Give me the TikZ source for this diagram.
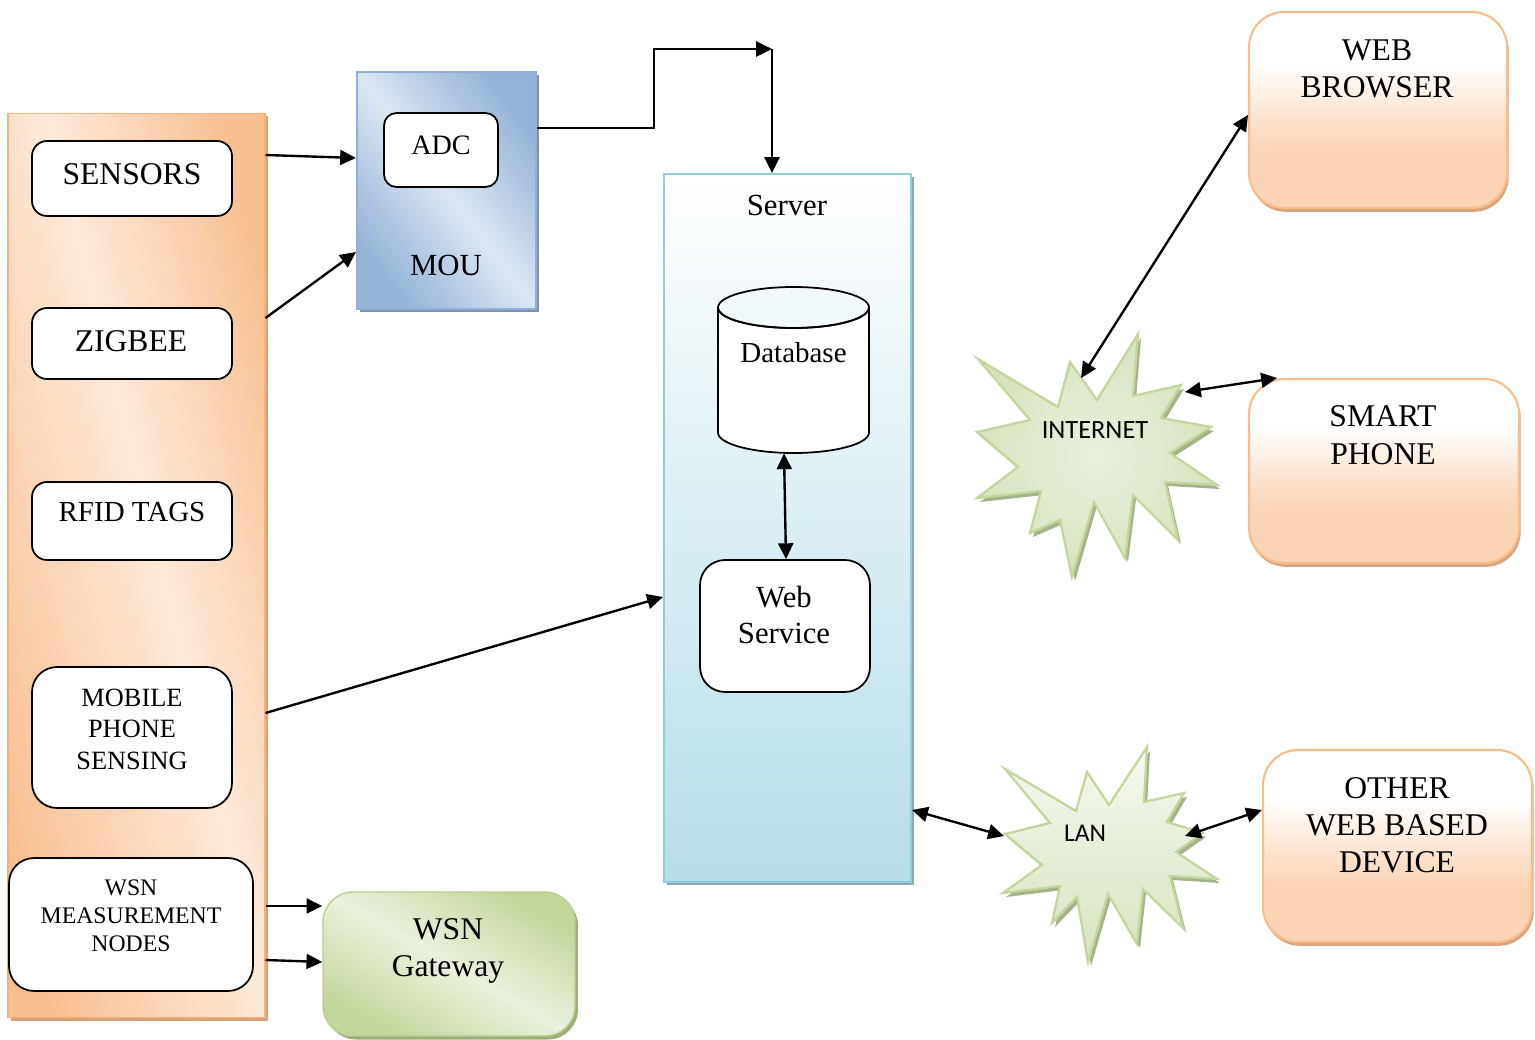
\documentclass[tikz,border=0pt]{standalone}
\usepackage{fontspec}
\setmainfont{Liberation Serif}
\newfontfamily\calfont{Carlito}
\usetikzlibrary{arrows.meta,shadows}

\newcommand\fs[2]{\fontsize{#1}{#2}\selectfont}

% palette
\definecolor{orA}{HTML}{F9BF8F}
\definecolor{orL}{HTML}{FDEADB}
\definecolor{orEdge}{HTML}{F6B27E}
\definecolor{orShadow}{HTML}{D5A27C}
\definecolor{bluA}{HTML}{95B3D7}
\definecolor{bluL}{HTML}{DCE6F2}
\definecolor{bluEdge}{HTML}{8FB0D9}
\definecolor{bluShadow}{HTML}{8292AA}
\definecolor{srvBot}{HTML}{B6DDE8}
\definecolor{srvEdge}{HTML}{92CDDC}
\definecolor{srvShadow}{HTML}{8CA8B2}
\definecolor{pkBot}{HTML}{FBD4B4}
\definecolor{pkEdge}{HTML}{F9BD8B}
\definecolor{pkShadow}{HTML}{D7A680}
\definecolor{grA}{HTML}{C3D69B}
\definecolor{grL}{HTML}{EBF1DE}
\definecolor{grEdge}{HTML}{B9CF8C}
\definecolor{grShadow}{HTML}{9CB07A}
\definecolor{stIn}{HTML}{EAF1DF}
\definecolor{stOut}{HTML}{D6E3BE}
\definecolor{stEdge}{HTML}{C3D69B}
\definecolor{stShadow}{HTML}{A3B38A}

% fills
\pgfdeclarehorizontalshading{panelshade}{100bp}{color(0bp)=(orA); color(25bp)=(orA); color(53bp)=(orL); color(75bp)=(orA); color(100bp)=(orA)}
\pgfdeclarehorizontalshading{moushade}{100bp}{color(0bp)=(bluA); color(25bp)=(bluA); color(50bp)=(bluL); color(75bp)=(bluA); color(100bp)=(bluA)}
\pgfdeclarehorizontalshading{gwshade}{100bp}{color(0bp)=(grA); color(25bp)=(grA); color(50bp)=(grL); color(75bp)=(grA); color(100bp)=(grA)}
\pgfdeclareverticalshading{pinkshade}{100bp}{color(0bp)=(pkBot); color(25bp)=(pkBot); color(40bp)=(pkBot); color(62bp)=(white); color(100bp)=(white)}
\pgfdeclareverticalshading{lanshade}{100bp}{color(0bp)=(stOut); color(25bp)=(stOut); color(75bp)=(white!60!stIn); color(100bp)=(white!60!stIn)}

% outlines of the two bursts
\def\inetpts{(978,359) -- (1058,407) -- (1070,362) -- (1097,400) -- (1138,334) -- (1133,396) -- (1181,385) -- (1161,418) -- (1211,427) -- (1170,453) -- (1217,485) -- (1165,482) -- (1178,540) -- (1133,495) -- (1125,558) -- (1094,502) -- (1072,577) -- (1060,520) -- (1030,533) -- (1041,491) -- (977,498) -- (1018,467) -- (977,432) -- (1030,420) -- cycle}
\def\lanpts{(1005,769) -- (1076,811) -- (1087,772) -- (1109,805) -- (1147,747) -- (1144,802) -- (1184,793) -- (1167,822) -- (1203,833) -- (1176,852) -- (1217,879) -- (1170,876) -- (1183,928) -- (1143,889) -- (1137,944) -- (1108,894) -- (1088,962) -- (1077,897) -- (1052,923) -- (1060,886) -- (1003,893) -- (1042,865) -- (1005,834) -- (1050,823) -- cycle}

\begin{document}
\begin{tikzpicture}[x=0.02cm,y=-0.02cm,
  wbox/.style={draw=black, line width=1pt, fill=white, rounded corners=#1, inner sep=0pt},
  wbox/.default=0.3cm,
  lbl/.style={align=center, inner sep=0pt, font=\fs{18}{21.5}},
  pinkbox/.style={draw=pkEdge, line width=1.2pt, shading=pinkshade, rounded corners=0.7cm,
    drop shadow={shadow xshift=1pt, shadow yshift=-2.2pt, fill=pkShadow, opacity=1}},
  tipA/.tip={Triangle[length=9pt,width=8.5pt]},
  arr/.style={line width=1.35pt, -tipA},
  biarr/.style={line width=1.35pt, tipA-tipA},
]
\useasboundingbox (0,0) rectangle (1535,1040);

% ---------- left column of data sources ----------
\node[draw=orEdge, line width=0.6pt, shading=panelshade, shading angle=14,
      minimum width=5.14cm, minimum height=18.1cm,
      drop shadow={shadow xshift=1.7pt, shadow yshift=-1.7pt, fill=orShadow, opacity=1}]
      (panel) at (136.5,565.5) {};

\node[wbox, minimum width=4cm, minimum height=1.5cm] (sensors) at (132,178.5) {};
\node[lbl] (sensors-t) at (132,174) {SENSORS};
\node[wbox, minimum width=4cm, minimum height=1.42cm] (zigbee) at (132,343.5) {};
\node[lbl] (zigbee-t) at (131,341) {ZIGBEE};
\node[wbox, minimum width=4cm, minimum height=1.56cm] (rfid) at (132,521) {};
\node[lbl, font=\fs{16.5}{19.5}] (rfid-t) at (132,512) {RFID TAGS};
\node[wbox=0.5cm, minimum width=4cm, minimum height=2.82cm] (mobile) at (132,737.5) {};
\node[lbl, font=\fs{15}{17.9}] (mobile-t) at (132,729) {MOBILE\\PHONE\\SENSING};
\node[wbox=0.5cm, minimum width=4.88cm, minimum height=2.66cm] (wsn) at (131,924.5) {};
\node[lbl, font=\fs{13.5}{15.9}] (wsn-t) at (131,916) {WSN\\MEASUREMENT\\NODES};

% ---------- MOU with its ADC ----------
\node[draw=bluEdge, line width=1.2pt, shading=moushade, shading angle=37,
      minimum width=3.58cm, minimum height=4.74cm,
      drop shadow={shadow xshift=1.5pt, shadow yshift=-1.5pt, fill=bluShadow, opacity=1}]
      (mou) at (446.5,190.5) {};
\node[wbox=0.25cm, minimum width=2.28cm, minimum height=1.48cm] (adc) at (441,150) {};
\node[lbl, font=\fs{16}{19}] (adc-t) at (441,145) {ADC};
\node[lbl, font=\fs{17.5}{20.5}] (mou-t) at (446,265) {MOU};

% ---------- WSN gateway ----------
\node[draw=grEdge, line width=0.8pt, shading=gwshade, shading angle=60, rounded corners=0.6cm,
      minimum width=5.04cm, minimum height=2.88cm,
      drop shadow={shadow xshift=1.7pt, shadow yshift=-2pt, fill=grShadow, opacity=1}]
      (gw) at (449,964) {};
\node[lbl, font=\fs{18}{21}] (gw-t) at (448,951) {WSN\\Gateway};

% ---------- server ----------
\node[draw=srvEdge, line width=1.2pt, top color=white, bottom color=srvBot,
      minimum width=4.94cm, minimum height=14.16cm,
      drop shadow={shadow xshift=1.5pt, shadow yshift=-1.5pt, fill=srvShadow, opacity=1}]
      (server) at (787.5,528) {};
\node[lbl, font=\fs{17.5}{20.5}] (server-t) at (787,205) {Server};

% database drum
\node[inner sep=0pt, minimum width=3.02cm, minimum height=3.32cm] (db) at (793.5,370) {};
\filldraw[fill=white, draw=black, line width=1pt]
  (718,307.5) -- (718,432.5) arc[start angle=180, end angle=0, x radius=75.5, y radius=20.5]
  -- (869,307.5) arc[start angle=0, end angle=180, x radius=75.5, y radius=20.5] -- cycle;
\draw[line width=1pt] (793.5,307.5) ellipse [x radius=75.5, y radius=20.5];
\node[lbl, font=\fs{16.5}{19.5}] (db-t) at (793.5,353) {Database};

\node[wbox=0.5cm, minimum width=3.4cm, minimum height=2.64cm] (ws) at (785,626) {};
\node[lbl, font=\fs{17.5}{20.4}] (ws-t) at (784,615) {Web\\Service};

% ---------- networks ----------
\fill[stShadow, shift={(3,4)}] \inetpts;
\path[draw=stEdge, line width=1.3pt, inner color=stIn, outer color=stOut] \inetpts;
\node[inner sep=0pt, font=\calfont\fs{15}{18}] (inet-t) at (1095,430) {INTERNET};

\fill[stShadow, shift={(3,4)}] \lanpts;
\path[draw=stEdge, line width=1.3pt, shading=lanshade] \lanpts;
\node[inner sep=0pt, font=\calfont\fs{14.5}{17}] (lan-t) at (1085,833) {LAN};

\coordinate (inetA) at (1081,378);
\coordinate (inetB) at (1185,392);
\coordinate (lanW) at (1004,836);
\coordinate (lanE) at (1185,836);

% ---------- client devices ----------
\node[pinkbox, minimum width=5.16cm, minimum height=3.92cm] (browser) at (1378,110) {};
\node[lbl] (browser-t) at (1377,69) {WEB\\BROWSER};
\node[pinkbox, minimum width=5.4cm, minimum height=3.68cm] (phone) at (1384,471) {};
\node[lbl] (phone-t) at (1383,435) {SMART\\PHONE};
\node[pinkbox, minimum width=5.38cm, minimum height=3.84cm] (other) at (1397.5,846) {};
\node[lbl, font=\fs{18}{21}] (other-t) at (1397,825) {OTHER\\WEB BASED\\DEVICE};

% ---------- connectors ----------
\draw[arr] (panel.east |- 0,155) -- (mou.west |- 0,158);
\draw[arr] (panel.east |- 0,318) -- (mou.west |- 0,252);

\coordinate (hop) at (654,49);
\coordinate (bend) at (772,49);
\draw[arr] (mou.east |- 0,128) -| (hop) -- (bend);
\draw[arr] (bend) -- (server.north -| bend);

\draw[arr] (panel.east |- 0,713) -- (server.west |- 0,597);
\draw[arr] (panel.east |- 0,906) -- (gw.west |- 0,906);
\draw[arr] (panel.east |- 0,960) -- (gw.west |- 0,962);

\draw[biarr] (db.south -| 784,0) -- (ws.north -| 786,0);

\draw[biarr] (inetA) -- (browser.west |- 0,115);
\draw[biarr] (inetB) -- (phone.north -| 1277,0);
\draw[biarr] (server.east |- 0,810) -- (lanW);
\draw[biarr] (lanE) -- (other.west |- 0,810);
\end{tikzpicture}
\end{document}
